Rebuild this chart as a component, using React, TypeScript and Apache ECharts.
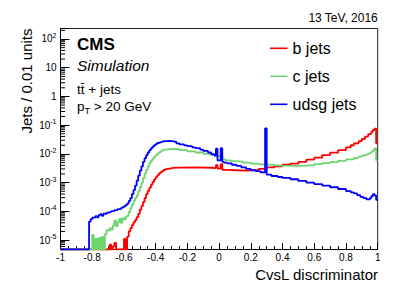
import React, { useEffect, useRef } from 'react';
import * as echarts from 'echarts';

const FONT = '"Liberation Sans", Arial, Helvetica, sans-serif';

const X_MIN = -1;
const X_MAX = 1;
const Y_MIN = 4.7e-6;
const Y_MAX = 232;

const seriesNames = ['b jets', 'c jets', 'udsg jets'];
const seriesColors = ['#ff0000', '#6fd66f', '#0000ff'];

// [bin low edge, jets / 0.01 units]; value holds until the next edge
const bJets: [number, number][] = [
  [-1, 0], [-0.69, 7e-6], [-0.68, 0], [-0.67, 6e-6], [-0.66, 8e-6], [-0.65, 0], [-0.6, 1.1e-5], [-0.59, 0],
  [-0.58, 1.3e-5], [-0.57, 2e-5], [-0.56, 2.6e-5], [-0.55, 3.3e-5], [-0.54, 4.2e-5], [-0.53, 5e-5],
  [-0.52, 6.3e-5], [-0.51, 8.2e-5], [-0.5, 1.15e-4], [-0.49, 1.55e-4], [-0.48, 2.1e-4], [-0.47, 2.9e-4],
  [-0.46, 4e-4], [-0.45, 5.2e-4], [-0.44, 6.7e-4], [-0.43, 8.5e-4], [-0.42, 1.07e-3], [-0.41, 1.3e-3],
  [-0.4, 1.55e-3], [-0.39, 1.8e-3], [-0.38, 2.1e-3], [-0.37, 2.3e-3], [-0.36, 2.55e-3], [-0.35, 2.75e-3],
  [-0.34, 2.95e-3], [-0.33, 3.1e-3], [-0.31, 3.25e-3], [-0.29, 3.35e-3], [-0.25, 3.4e-3], [-0.15, 3.3e-3],
  [-0.05, 3.2e-3], [-0.02, 4.1e-3], [-0.01, 3.1e-3], [0.01, 4.4e-3], [0.02, 2.8e-3], [0.05, 2.7e-3],
  [0.1, 2.6e-3], [0.17, 2.7e-3], [0.2, 2.8e-3], [0.25, 3.0e-3], [0.3, 3.4e-3], [0.35, 3.7e-3],
  [0.4, 4.2e-3], [0.45, 4.6e-3], [0.5, 5.3e-3], [0.55, 6.3e-3], [0.6, 7.4e-3], [0.65, 9.1e-3],
  [0.7, 0.011], [0.75, 0.0135], [0.8, 0.017], [0.83, 0.02], [0.85, 0.0234], [0.88, 0.028], [0.9, 0.033],
  [0.92, 0.04], [0.94, 0.049], [0.96, 0.06], [0.97, 0.068], [0.98, 0.076], [0.99, 0.0234],
];

const cJets: [number, number][] = [
  [-1, 0], [-0.8, 1.5e-5], [-0.79, 0], [-0.78, 1.1e-5], [-0.77, 0], [-0.76, 1.2e-5], [-0.75, 0],
  [-0.74, 1.3e-5], [-0.73, 0], [-0.72, 1.6e-5], [-0.71, 2.2e-5], [-0.7, 2.1e-5], [-0.69, 2.6e-5],
  [-0.68, 2.3e-5], [-0.67, 3.2e-5], [-0.66, 4.8e-5], [-0.65, 3e-5], [-0.64, 4.2e-5], [-0.63, 5.5e-5],
  [-0.62, 4e-5], [-0.61, 5.8e-5], [-0.6, 5.2e-5], [-0.59, 6.5e-5], [-0.58, 7e-5], [-0.57, 9.5e-5],
  [-0.56, 1.3e-4], [-0.55, 1.7e-4], [-0.54, 2.3e-4], [-0.53, 2.9e-4], [-0.52, 3.6e-4], [-0.51, 5e-4],
  [-0.5, 6.9e-4], [-0.49, 1e-3], [-0.48, 1.44e-3], [-0.47, 2.05e-3], [-0.46, 2.8e-3], [-0.45, 3.7e-3],
  [-0.44, 4.8e-3], [-0.43, 5.9e-3], [-0.42, 6.9e-3], [-0.41, 8.1e-3], [-0.4, 9.1e-3], [-0.39, 0.0103],
  [-0.38, 0.0113], [-0.37, 0.0123], [-0.36, 0.0131], [-0.35, 0.014], [-0.34, 0.0145], [-0.32, 0.015],
  [-0.28, 0.0146], [-0.25, 0.0135], [-0.2, 0.0123], [-0.15, 0.0112], [-0.1, 0.0101], [-0.05, 0.0091],
  [-0.02, 0.0083], [0.02, 0.0065], [0.04, 0.006], [0.07, 0.0056], [0.1, 0.0054], [0.15, 0.005],
  [0.2, 0.0046], [0.25, 0.0043], [0.3, 0.0041], [0.35, 0.0039], [0.4, 0.0038], [0.5, 0.0039],
  [0.55, 0.0041], [0.6, 0.0044], [0.65, 0.0048], [0.7, 0.0052], [0.75, 0.0057], [0.8, 0.0064],
  [0.85, 0.0073], [0.88, 0.0081], [0.9, 0.0087], [0.92, 0.0095], [0.94, 0.0104], [0.95, 0.011],
  [0.96, 0.012], [0.97, 0.0132], [0.98, 0.0156], [0.99, 0.006],
];

const udsgJets: [number, number][] = [
  [-1, 0], [-0.82, 4.4e-5], [-0.81, 5.4e-5], [-0.8, 6e-5], [-0.79, 6.2e-5], [-0.78, 6.8e-5],
  [-0.77, 6.2e-5], [-0.76, 7.4e-5], [-0.75, 8e-5], [-0.74, 7e-5], [-0.73, 8.3e-5], [-0.72, 8e-5],
  [-0.71, 9e-5], [-0.7, 9.3e-5], [-0.69, 9.6e-5], [-0.68, 1.02e-4], [-0.66, 1.1e-4], [-0.64, 1.19e-4],
  [-0.62, 1.3e-4], [-0.61, 1.4e-4], [-0.6, 1.5e-4], [-0.59, 1.65e-4], [-0.58, 1.87e-4], [-0.57, 2.3e-4],
  [-0.56, 2.9e-4], [-0.55, 4e-4], [-0.54, 5.5e-4], [-0.53, 7.9e-4], [-0.52, 1.17e-3], [-0.51, 1.74e-3],
  [-0.5, 2.6e-3], [-0.49, 3.7e-3], [-0.48, 5.3e-3], [-0.47, 7.1e-3], [-0.46, 9.1e-3], [-0.45, 0.0113],
  [-0.44, 0.0135], [-0.43, 0.0158], [-0.42, 0.0178], [-0.41, 0.0203], [-0.4, 0.022], [-0.39, 0.024],
  [-0.38, 0.025], [-0.37, 0.0263], [-0.36, 0.0272], [-0.35, 0.0279], [-0.33, 0.0283], [-0.31, 0.0275],
  [-0.29, 0.0263], [-0.27, 0.0234], [-0.25, 0.0214], [-0.22, 0.0198], [-0.2, 0.0186], [-0.17, 0.017],
  [-0.15, 0.0159], [-0.12, 0.014], [-0.1, 0.0127], [-0.07, 0.0112], [-0.05, 0.0098], [-0.03, 0.0087],
  [-0.02, 0.0152], [-0.01, 0.006], [0.01, 0.0158], [0.02, 0.0053], [0.03, 0.005], [0.05, 0.0047],
  [0.08, 0.0042], [0.11, 0.0038], [0.14, 0.0034], [0.17, 0.003], [0.2, 0.0027], [0.23, 0.0025],
  [0.26, 0.0023], [0.29, 0.078], [0.3, 0.0019], [0.33, 0.0017], [0.37, 0.00157], [0.4, 0.00146],
  [0.45, 0.00131], [0.5, 0.00115], [0.55, 0.001], [0.6, 0.00089], [0.65, 0.00079], [0.7, 0.00069],
  [0.75, 0.0006], [0.8, 0.00051], [0.83, 0.00046], [0.85, 0.00042], [0.87, 0.00037], [0.89, 0.00032],
  [0.91, 0.00029], [0.93, 0.00026], [0.95, 0.00029], [0.96, 0.00034], [0.97, 0.0004], [0.98, 0.00036],
  [0.99, 0.00025],
];

const seriesData = [bJets, cJets, udsgJets];

// log-axis minor tick multipliers (2..9 per decade)
const minorMultipliers = [2, 3, 4, 5, 6, 7, 8, 9];
const decades = [-6, -5, -4, -3, -2, -1, 0, 1, 2];

function toSteps(arr: [number, number][]) {
  const pts = arr.map(([x, v]) => [x, v > 0 ? v : Y_MIN]);
  const last = arr[arr.length - 1][1];
  pts.push([X_MAX, last > 0 ? last : Y_MIN]);
  return pts;
}

function yLabel(v: number) {
  const e = Math.log10(v);
  const r = Math.round(e);
  if (Math.abs(e - r) > 1e-6) return '';
  if (r === 0) return '{n|1}';
  if (r === 1) return '{n|10}';
  return `{n|10}{e|${r}}`;
}

function xLabel(v: number) {
  const r = Math.round(v * 10) / 10;
  return String(r);
}

export default function App() {
  const ref = useRef<HTMLDivElement>(null);
  useEffect(() => {
    const chart = echarts.init(ref.current!, null, { renderer: 'svg' });
    const minorVals: number[][] = [];
    decades.forEach((d) => {
      minorMultipliers.forEach((m) => {
        const v = m * Math.pow(10, d);
        if (v > Y_MIN && v < Y_MAX) minorVals.push([X_MIN, v]);
      });
    });
    const lineSeries = seriesNames.map((name, i) => ({
      name,
      type: 'line',
      step: 'end',
      symbol: 'none',
      data: toSteps(seriesData[i]),
      lineStyle: { color: seriesColors[i], width: 1.8 },
      itemStyle: { color: seriesColors[i] },
      clip: true,
      silent: true,
    }));
    const option: any = {
      animation: false,
      backgroundColor: '#ffffff',
      textStyle: { fontFamily: FONT },
      grid: {
        left: 60.5, right: 29.3, top: 28.5, bottom: 43.5,
        show: true, borderColor: '#222', borderWidth: 1, backgroundColor: 'transparent',
      },
      legend: {
        data: seriesNames.map((n) => ({ name: n, icon: 'rect' })),
        orient: 'vertical',
        left: 270,
        top: 40.3,
        padding: 0,
        itemWidth: 17.5,
        itemHeight: 1.6,
        itemGap: 12,
        selectedMode: false,
        textStyle: { fontFamily: FONT, fontSize: 16, color: '#000', lineHeight: 16 },
      },
      xAxis: {
        type: 'value',
        min: X_MIN, max: X_MAX, interval: 0.2,
        axisLine: { show: true, onZero: false, lineStyle: { color: '#000', width: 1 } },
        axisTick: { show: true, inside: true, length: 6.5, lineStyle: { color: '#000' } },
        minorTick: { show: true, splitNumber: 4, length: 3.5, lineStyle: { color: '#000' } },
        splitLine: { show: false },
        axisLabel: { formatter: xLabel, fontFamily: FONT, fontSize: 10, color: '#000', margin: 3 },
      },
      yAxis: {
        type: 'log',
        logBase: 10,
        min: Y_MIN, max: Y_MAX,
        axisLine: { show: true, onZero: false, lineStyle: { color: '#000', width: 1 } },
        axisTick: { show: true, inside: true, length: 9, lineStyle: { color: '#000' } },
        splitLine: { show: false },
        axisLabel: {
          formatter: yLabel,
          margin: 4,
          color: '#000',
          rich: {
            n: { fontFamily: FONT, fontSize: 10, color: '#000', lineHeight: 14 },
            e: { fontFamily: FONT, fontSize: 7, color: '#000', verticalAlign: 'top', lineHeight: 8 },
          },
        },
      },
      series: [
        {
          type: 'custom',
          name: 'minorTicks',
          silent: true,
          data: minorVals,
          renderItem: (_p: any, api: any) => {
            const pt = api.coord([api.value(0), api.value(1)]);
            return {
              type: 'line',
              shape: { x1: pt[0], y1: pt[1], x2: pt[0] + 4.5, y2: pt[1] },
              style: { stroke: '#000', lineWidth: 1 },
            };
          },
        },
        ...lineSeries,
      ],
      graphic: [
        { type: 'text', right: 29, top: 12, style: { text: '13 TeV, 2016', fontFamily: FONT, fontSize: 12, fill: '#000' } },
        { type: 'text', x: 77, y: 44.5, style: { text: 'CMS', fontFamily: FONT, fontSize: 17, fontWeight: 'bold', fill: '#000', textVerticalAlign: 'middle' } },
        { type: 'text', x: 77, y: 65, style: { text: 'Simulation', fontFamily: FONT, fontSize: 15.5, fontStyle: 'italic', fill: '#000', textVerticalAlign: 'middle' } },
        { type: 'text', x: 77, y: 89, style: { text: 'tt\u0304 + jets', fontFamily: FONT, fontSize: 13.5, fill: '#000', textVerticalAlign: 'middle' } },
        { type: 'text', x: 77, y: 106, style: { text: 'p', fontFamily: FONT, fontSize: 13.5, fill: '#000', textVerticalAlign: 'middle' } },
        { type: 'text', x: 84.5, y: 110.5, style: { text: 'T', fontFamily: FONT, fontSize: 9.5, fill: '#000', textVerticalAlign: 'middle' } },
        { type: 'text', x: 90, y: 106, style: { text: ' > 20 GeV', fontFamily: FONT, fontSize: 13.5, fill: '#000', textVerticalAlign: 'middle' } },
        { type: 'text', x: 26.5, y: 28.5, rotation: Math.PI / 2, style: { text: 'Jets / 0.01 units', fontFamily: FONT, fontSize: 15, fill: '#000', textAlign: 'right', textVerticalAlign: 'middle' } },
        { type: 'text', x: 378, y: 274, style: { text: 'CvsL discriminator', fontFamily: FONT, fontSize: 15, fill: '#000', textAlign: 'right', textVerticalAlign: 'middle' } },
      ],
    };
    chart.setOption(option);
    return () => chart.dispose();
  }, []);
  return (
    <div
      ref={ref}
      style={{ position: 'fixed', left: 0, top: 0, width: 407, height: 293, background: '#fff' }}
    />
  );
}
